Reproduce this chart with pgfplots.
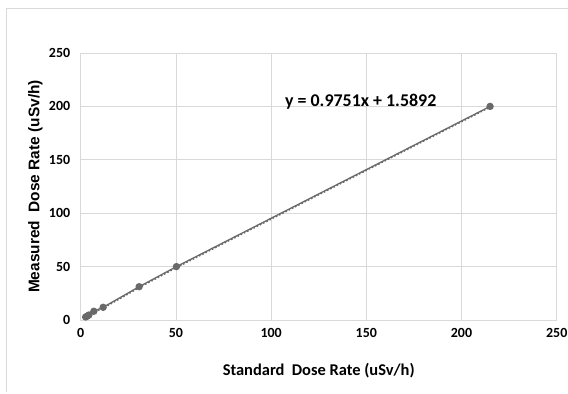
\documentclass[border=0pt]{standalone}
\usepackage{pgfplots}
\pgfplotsset{compat=1.18}
\usepackage{fontspec}
\setmainfont{Carlito}
\newfontfamily\arialb{Liberation Sans}
\definecolor{gridc}{RGB}{217,217,217}
\definecolor{linec}{RGB}{105,105,105}
\begin{document}
\begin{tikzpicture}[x=1bp,y=1bp]
\useasboundingbox (-80.7,-73) rectangle (487.3,320);
\draw[gridc, line width=0.8bp] (487.3,312) -- (-74.7,312) -- (-74.7,-72);
\begin{axis}[
  at={(0,0)}, anchor=south west,
  scale only axis, width=476bp, height=267bp,
  xmin=0, xmax=250, ymin=0, ymax=250,
  xtick={0,50,...,250}, ytick={0,50,...,250},
  grid=major, major grid style={gridc, line width=0.7bp},
  axis line style={gridc, line width=0.8bp},
  tick style={draw=none},
  ticklabel style={font=\fontsize{14}{16}\selectfont\bfseries},
  xticklabel style={yshift=-5bp},
  yticklabel style={xshift=-7bp},
  /pgf/number format/assume math mode=true,
  xlabel={\fontsize{16.5}{20}\selectfont\bfseries Standard\ \ Dose Rate (uSv/h)},
  ylabel={\arialb\fontsize{15.5}{18}\selectfont\bfseries Measured\ \ Dose Rate (uSv/h)},
  xlabel style={at={(axis description cs:0.5,-0.19)}, anchor=center},
  ylabel style={at={(axis description cs:-0.095,0.5)}, anchor=center, rotate=0},
]
\addplot[linec, line width=1.6bp, dotted, forget plot]
  coordinates {(2.6,2.0) (3.4,2.8) (4.3,3.9) (6.9,7.4) (11.8,11.1) (30.7,30.4) (50.3,49.2) (215,199.4)};
\addplot[linec, line width=1.3bp, mark=*, mark size=3bp, mark options={fill=linec, draw=linec}]
  coordinates {(2.6,2.8) (3.4,3.6) (4.3,4.7) (6.9,8.2) (11.8,11.9) (30.7,31.2) (50.3,50.0) (215,200)};
\node[anchor=west, font=\fontsize{18}{20}\selectfont\bfseries] at (axis cs:105.5,204.4) {y = 0.9751x + 1.5892};
\end{axis}
\end{tikzpicture}
\end{document}
